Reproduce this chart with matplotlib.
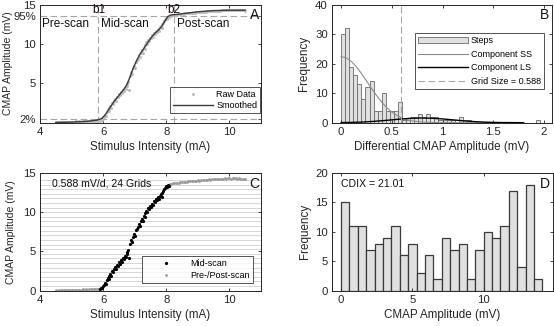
import numpy as np
import matplotlib
matplotlib.use('Agg')
import matplotlib.pyplot as plt

plt.rcParams['font.family'] = ['Liberation Sans', 'DejaVu Sans']
plt.rcParams['axes.linewidth'] = 0.7

# ---- data ----
pre_x = [4.50, 4.55, 4.60, 4.65, 4.70, 4.75, 4.80, 4.85, 4.90, 4.95, 5.00, 5.05, 5.10, 5.15,
         5.20, 5.25, 5.30, 5.35, 5.40, 5.45, 5.50, 5.55, 5.60, 5.65, 5.70, 5.75, 5.80, 5.85]
pre_y = [0.05, 0.02, 0.06, 0.04, 0.08, 0.05, 0.07, 0.10, 0.06, 0.09, 0.08, 0.12, 0.10, 0.13,
         0.11, 0.15, 0.12, 0.16, 0.14, 0.18, 0.15, 0.20, 0.18, 0.22, 0.20, 0.25, 0.23, 0.28]

mid_x = [5.90, 5.93, 5.96, 5.99, 6.02, 6.05, 6.08, 6.11, 6.14, 6.17, 6.20, 6.23, 6.26, 6.29,
         6.32, 6.35, 6.38, 6.41, 6.44, 6.47, 6.50, 6.53, 6.56, 6.59, 6.62, 6.65, 6.68, 6.71,
         6.74, 6.77, 6.80, 6.83, 6.86, 6.89, 6.92, 6.95, 6.98, 7.01, 7.04, 7.07, 7.10, 7.13,
         7.16, 7.19, 7.22, 7.25, 7.28, 7.31, 7.34, 7.37, 7.40, 7.43, 7.46, 7.49, 7.52, 7.55,
         7.58, 7.61, 7.64, 7.67, 7.70, 7.73, 7.76, 7.79, 7.82, 7.85, 7.88, 7.91, 7.94, 7.97,
         8.00, 8.03, 8.06, 8.09]
mid_y = [0.25, 0.35, 0.30, 0.60, 0.70, 1.00, 0.85, 1.30, 1.60, 1.45, 1.90, 2.10, 1.85, 2.50,
         2.40, 2.80, 3.00, 2.75, 3.30, 3.20, 3.60, 3.45, 3.90, 3.70, 4.20, 4.00, 4.45, 4.30,
         4.90, 4.70, 5.20, 4.20, 5.90, 6.40, 6.20, 6.90, 7.20, 7.00, 7.70, 7.90, 8.10, 8.50,
         8.30, 8.90, 9.20, 8.90, 9.50, 9.40, 9.90, 10.20, 10.00, 10.50, 10.40, 10.80, 10.70, 11.10,
         10.90, 11.40, 11.30, 11.70, 11.50, 11.90, 11.70, 12.10, 12.30, 12.00, 12.50, 12.70, 12.90, 13.10,
         13.30, 13.20, 13.45, 13.40]

post_x = [8.12, 8.16, 8.20, 8.25, 8.30, 8.35, 8.40, 8.45, 8.50, 8.55, 8.60, 8.65, 8.70, 8.75,
          8.80, 8.85, 8.90, 8.95, 9.00, 9.05, 9.10, 9.15, 9.20, 9.25, 9.30, 9.35, 9.40, 9.45,
          9.50, 9.55, 9.60, 9.65, 9.70, 9.75, 9.80, 9.85, 9.90, 9.95, 10.00, 10.05, 10.10, 10.15,
          10.20, 10.25, 10.30, 10.35, 10.40, 10.45, 10.50]
post_y = [13.55, 13.62, 13.68, 13.70, 13.74, 13.72, 13.78, 13.80, 13.84, 13.82,
          13.88, 13.90, 13.92, 13.95, 13.97, 13.96, 14.00, 14.03, 14.05, 14.02,
          14.08, 14.10, 14.12, 14.10, 14.15, 14.18, 14.16, 14.20, 14.22, 14.20,
          14.24, 14.26, 14.25, 14.28, 14.27, 14.30, 14.28, 14.31, 14.30, 14.29,
          14.32, 14.30, 14.31, 14.28, 14.30, 14.29, 14.27, 14.28, 14.26]

smooth_x = [4.5, 5.0, 5.5, 5.8, 5.95, 6.05, 6.15, 6.25, 6.35, 6.45, 6.55, 6.65, 6.75, 6.85,
            6.95, 7.05, 7.15, 7.25, 7.35, 7.45, 7.55, 7.65, 7.75, 7.85, 7.95, 8.05, 8.15,
            8.3, 8.6, 9.0, 9.5, 10.0, 10.5]
smooth_y = [0.0, 0.05, 0.15, 0.3, 0.5, 0.9, 1.5, 2.1, 2.7, 3.2, 3.7, 4.2, 4.8, 5.8,
            6.9, 7.8, 8.6, 9.2, 9.8, 10.4, 10.95, 11.4, 11.75, 12.2, 12.9, 13.5, 13.7,
            13.75, 13.9, 14.1, 14.25, 14.3, 14.3]

b1, b2 = 5.85, 8.25
lvl_lo, lvl_hi = 0.4, 13.55

# panel B: step histogram (bin width 0.04) and fitted components
step_counts = [30, 32, 19, 16, 13, 8, 12, 14, 4, 4, 10, 4, 4, 4, 7,
               1, 1, 2, 2, 3, 2, 3, 2, 2, 1, 1, 1, 1, 0, 2, 1, 1,
               0, 0, 0, 0, 0, 0, 0, 0, 0, 0, 0, 0, 0, 0, 0, 0, 1, 0]
step_width = 0.04
ss_x = [0, 0.05, 0.1, 0.15, 0.2, 0.25, 0.3, 0.35, 0.4, 0.45, 0.5, 0.55, 0.6, 0.65, 0.7,
        0.8, 0.9, 1.0, 1.2, 1.5]
ss_y = [22.4, 22.0, 20.8, 19.0, 16.7, 14.2, 11.6, 9.2, 7.0, 5.1, 3.6, 2.5, 1.6, 1.0, 0.6,
        0.2, 0.05, 0.0, 0.0, 0.0]
ls_x = [0, 0.1, 0.2, 0.3, 0.4, 0.5, 0.6, 0.7, 0.8, 0.9, 1.0, 1.1, 1.2, 1.3, 1.4, 1.5, 1.6, 1.8]
ls_y = [0.05, 0.1, 0.22, 0.4, 0.66, 0.97, 1.28, 1.51, 1.6, 1.51, 1.28, 0.97, 0.66, 0.4,
        0.22, 0.1, 0.05, 0.0]
grid_size = 0.588

# panel D: amplitude histogram, 24 bins of 0.588
amp_counts = [15, 11, 11, 7, 8, 9, 11, 6, 8, 3, 6, 2, 9, 7, 8, 2, 7, 10, 9, 11, 17, 4, 18, 2]
n_grids = 24

tick_c = '#262626'
gray_d = '#a6a6a6'
fs = 8.2
lab_fs = 8.4


def style(ax, ylab_x):
    ax.tick_params(direction='in', length=2.5, width=0.6, top=True, right=True,
                   labelsize=fs, colors=tick_c, pad=3)
    for s in ax.spines.values():
        s.set_color(tick_c)
    ax.yaxis.set_label_coords(ylab_x, 0.5)


def box_legend(leg):
    leg.get_frame().set_edgecolor(tick_c)
    leg.get_frame().set_linewidth(0.7)


fig = plt.figure(figsize=(5.54, 3.26), dpi=100)
W, H = 554, 326
axA = fig.add_axes([40 / W, (H - 122.5) / H, 221 / W, 117.8 / H])
axB = fig.add_axes([332 / W, (H - 122.7) / H, 220 / W, 118 / H])
axC = fig.add_axes([40 / W, (H - 290.7) / H, 221 / W, 117.7 / H])
axD = fig.add_axes([332 / W, (H - 290.7) / H, 221 / W, 117.7 / H])

# ---- A ----
all_x = pre_x + mid_x + post_x
all_y = pre_y + mid_y + post_y
for v in (lvl_lo, lvl_hi):
    axA.axhline(v, color=gray_d, lw=0.8, ls=(0, (6, 3)))
for v in (b1, b2):
    axA.axvline(v, color=gray_d, lw=0.8, ls=(0, (6, 3)))
axA.plot(all_x, all_y, 'o', ms=2.2, mew=0, color='#bdbdbd', label='Raw Data')
axA.plot(smooth_x, smooth_y, '-', lw=1.0, color='#3a3a3a', label='Smoothed')
axA.set_xlim(4, 11)
axA.set_ylim(0, 15)
axA.set_xticks([4, 6, 8, 10])
axA.set_yticks([lvl_lo, 5, 10, lvl_hi, 15])
axA.set_yticklabels(['2%', '5', '10', '95%', '15'])
axA.set_xlabel('Stimulus Intensity (mA)', fontsize=lab_fs, color=tick_c, labelpad=3)
axA.set_ylabel('CMAP Amplitude (mV)', fontsize=7.5, color=tick_c)
axA.text(4.06, 12.5, 'Pre-scan', fontsize=8.5, va='center', color='#111111')
axA.text(5.93, 12.5, 'Mid-scan', fontsize=8.5, va='center', color='#111111')
axA.text(8.33, 12.5, 'Post-scan', fontsize=8.5, va='center', color='#111111')
axA.text(b1, 14.35, 'b1', fontsize=8.5, ha='center', va='center', color='#1a0a0a')
axA.text(b2, 14.35, 'b2', fontsize=8.5, ha='center', va='center', color='#1a0a0a')
axA.text(10.8, 13.7, 'A', fontsize=10, ha='center', va='center', color='#111111')
style(axA, -0.12)
legA = axA.legend(loc='lower right', bbox_to_anchor=(0.995, 0.08), borderaxespad=0,
                  fontsize=6.5, frameon=True, fancybox=False, handlelength=4.5,
                  handletextpad=0.3, borderpad=0.3, labelspacing=0.25)
box_legend(legA)

# ---- B ----
edges = np.arange(len(step_counts)) * step_width
hb = axB.bar(edges, step_counts, width=step_width, align='edge', color='#e0e0e0',
             edgecolor='#6a6a6a', lw=0.6, label='Steps')
hs, = axB.plot(ss_x, ss_y, color='#8c8c8c', lw=0.8, label='Component SS')
hl, = axB.plot(ls_x, ls_y, color='#000000', lw=1.0, label='Component LS')
hg = axB.axvline(grid_size, color=gray_d, lw=0.8, ls=(0, (6, 3)),
                 label='Grid Size = %.3f' % grid_size)
axB.set_xlim(-0.09, 2.08)
axB.set_ylim(0, 40)
axB.set_xticks([0, 0.5, 1, 1.5, 2])
axB.set_xticklabels(['0', '0.5', '1', '1.5', '2'])
axB.set_yticks([0, 10, 20, 30, 40])
axB.set_xlabel('Differential CMAP Amplitude (mV)', fontsize=lab_fs, color=tick_c, labelpad=3)
axB.set_ylabel('Frequency', fontsize=lab_fs, color=tick_c)
axB.text(2.01, 36.5, 'B', fontsize=10, ha='center', va='center', color='#111111')
style(axB, -0.1)
legB = axB.legend([hb, hs, hl, hg], ['Steps', 'Component SS', 'Component LS',
                                     'Grid Size = %.3f' % grid_size],
                  loc='upper right', bbox_to_anchor=(0.964, 0.76), borderaxespad=0,
                  fontsize=6.5, frameon=True, fancybox=False, handlelength=5.5,
                  handletextpad=0.3, borderpad=0.35, labelspacing=0.5)
box_legend(legB)

# ---- C ----
for k in range(n_grids + 1):
    axC.axhline(k * grid_size, color='#d0d0d0', lw=0.6, zorder=0)
hp, = axC.plot(pre_x + post_x, pre_y + post_y, 'o', ms=2.0, mew=0, color='#9a9a9a', zorder=2)
hm, = axC.plot(mid_x, mid_y, 'o', ms=2.3, mew=0, color='#000000', zorder=3)
axC.set_xlim(4, 11)
axC.set_ylim(0, 15)
axC.set_xticks([4, 6, 8, 10])
axC.set_yticks([0, 5, 10, 15])
axC.set_xlabel('Stimulus Intensity (mA)', fontsize=lab_fs, color=tick_c, labelpad=3)
axC.set_ylabel('CMAP Amplitude (mV)', fontsize=7.5, color=tick_c)
axC.text(4.38, 13.6, '%.3f mV/d, %d Grids' % (grid_size, n_grids), fontsize=7.6,
         va='center', color='#111111')
axC.text(10.78, 13.6, 'C', fontsize=10, ha='center', va='center', color='#111111')
style(axC, -0.11)
legC = axC.legend([hm, hp], ['Mid-scan', 'Pre-/Post-scan'], loc='lower right',
                  bbox_to_anchor=(0.964, 0.065), borderaxespad=0,
                  fontsize=6.5, frameon=True, fancybox=False, handlelength=4.5,
                  handletextpad=0.5, borderpad=0.35, labelspacing=0.35)
box_legend(legC)

# ---- D ----
d_edges = np.arange(n_grids) * grid_size
axD.bar(d_edges, amp_counts, width=grid_size, align='edge', color='#e0e0e0',
        edgecolor='#3a3a3a', lw=0.9)
axD.set_xlim(-0.63, 14.85)
axD.set_ylim(0, 20)
axD.set_xticks([0, 5, 10])
axD.set_yticks([0, 5, 10, 15, 20])
axD.set_xlabel('CMAP Amplitude (mV)', fontsize=lab_fs, color=tick_c, labelpad=3)
axD.set_ylabel('Frequency', fontsize=lab_fs, color=tick_c)
axD.text(0.0, 18.2, 'CDIX = 21.01', fontsize=7.6, va='center', color='#111111')
axD.text(14.27, 18.2, 'D', fontsize=10, ha='center', va='center', color='#111111')
style(axD, -0.095)

fig.savefig('out.png', dpi=100)
